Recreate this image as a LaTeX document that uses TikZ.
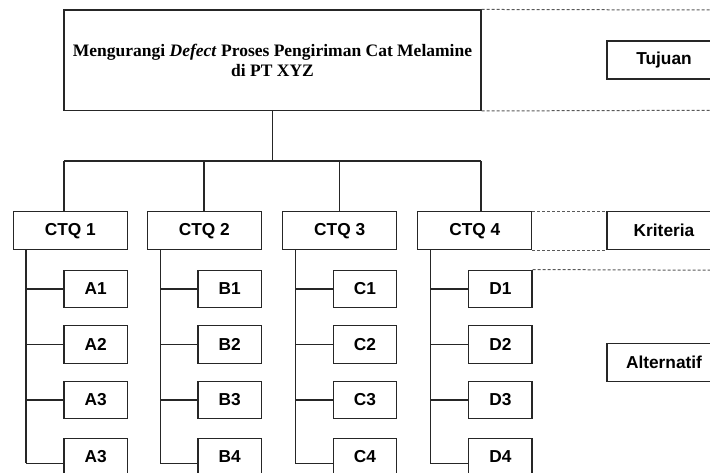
\documentclass[tikz,border=0pt]{standalone}
\usepackage{fontspec}
\setmainfont{Liberation Serif}
\setsansfont{Liberation Sans}
\begin{document}
\begin{tikzpicture}[x=1pt,y=-1pt,
  line/.style={draw=black!85, line width=1.2pt},
  box/.style={line, rectangle, inner sep=0pt, fill=white},
  ctqbox/.style={box, minimum width=114pt, minimum height=38pt, font=\sffamily\bfseries\fontsize{17.3}{20}\selectfont},
  subbox/.style={box, minimum width=63.3pt, minimum height=37.7pt, font=\sffamily\bfseries\fontsize{17.3}{20}\selectfont},
  goalbox/.style={box, minimum width=417pt, minimum height=100.3pt, align=center, font=\bfseries\fontsize{17.5}{20}\selectfont},
  dashline/.style={draw=black!65, line width=1pt, dash pattern=on 3pt off 2pt}
]
\useasboundingbox (0,0) rectangle (710,473);
\clip (0,0) rectangle (710,473);

% goal
\node[goalbox] (goal) at (272.5,60.2) {Mengurangi \textit{Defect} Proses Pengiriman Cat Melamine\\di PT XYZ};

% criteria
\node[ctqbox] (c1) at (70.3,230.7) {CTQ 1};
\node[ctqbox] (c2) at (204.3,230.7) {CTQ 2};
\node[ctqbox] (c3) at (339.7,230.7) {CTQ 3};
\node[ctqbox] (c4) at (474.8,230.7) {CTQ 4};

% right legend
\node[ctqbox] (tujuan) at (664,60) {Tujuan};
\node[ctqbox] (kriteria) at (664,230.7) {Kriteria};
\node[ctqbox] (alt) at (664,362.2) {Alternatif};

% bar
\coordinate (bar) at (272.5,161);
\coordinate (barL) at (64,161);
\coordinate (barR) at (481,161);
\coordinate (bar2) at (204,161);
\coordinate (bar3) at (339.7,161);
\draw[line] (goal.south) -- (bar);
\draw[line] (barL) -- (barR);
\draw[line] (barL) -- (barL |- c1.north);
\draw[line] (bar2) -- (bar2 |- c2.north);
\draw[line] (bar3) -- (bar3 |- c3.north);
\draw[line] (barR) -- (barR |- c4.north);

% alternatives
\foreach \c/\L/\lx/\rx in {c1/A/26/127.3, c2/B/160.3/261.3, c3/C/295.3/396.7, c4/D/430.3/532}{
  \pgfmathsetmacro{\cx}{\rx-31.65}
  \node[subbox] (\L1) at (\cx,289) {\L1};
  \node[subbox] (\L2) at (\cx,344.5) {\L2};
  \node[subbox] (\L3) at (\cx,400) {\L3};
  \coordinate (\L sp) at (\lx,463.3);
  \coordinate (\L top) at (\lx,249.7);
  \draw[line] (\L top) -- (\L sp);
  \draw[line] (\L1.west) -- (\L1.west -| \L sp);
  \draw[line] (\L2.west) -- (\L2.west -| \L sp);
  \draw[line] (\L3.west) -- (\L3.west -| \L sp);
}
\node[subbox] (A4) at (95.65,457) {A3};
\node[subbox] (B4) at (229.65,457) {B4};
\node[subbox] (C4) at (365.05,457) {C4};
\node[subbox] (D4) at (500.35,457) {D4};
\foreach \L in {A,B,C,D}{
  \draw[line] (\L sp) -- (\L sp -| \L4.west);
}

% dashed guides
\coordinate (e1) at (710,10);
\coordinate (e2) at (710,110.3);
\coordinate (e3) at (710,270.2);
\draw[dashline] (goal.north east) -- (e1);
\draw[dashline] (goal.south east) -- (e2);
\draw[dashline] (c4.north east) -- (kriteria.north west);
\draw[dashline] (c4.south east) -- (kriteria.south west);
\draw[dashline] (D1.north east) -- (e3);
\end{tikzpicture}
\end{document}
